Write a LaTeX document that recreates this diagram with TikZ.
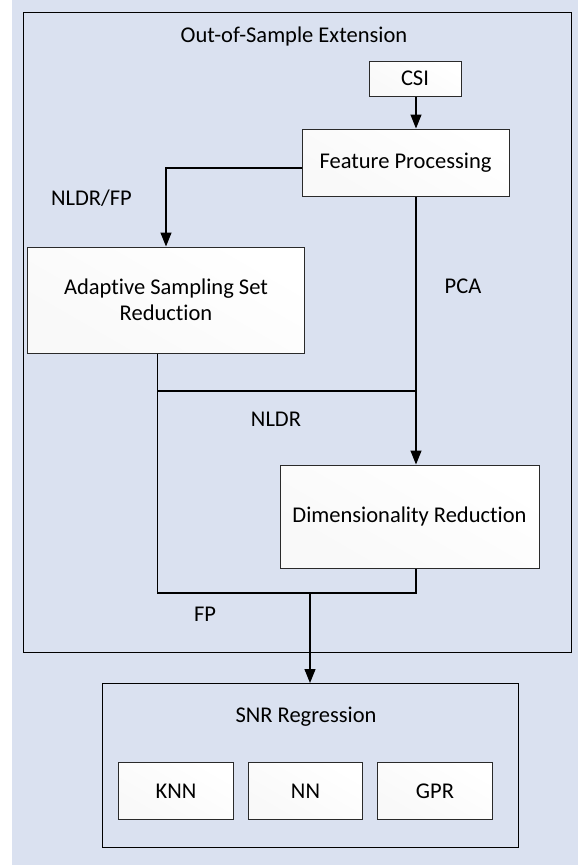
\documentclass[tikz,border=0pt]{standalone}
\usepackage{fontspec}
\setmainfont[Ligatures=NoCommon]{Carlito}
\usetikzlibrary{arrows.meta}
\definecolor{panel}{HTML}{DAE1F0}
\definecolor{boxline}{HTML}{2A2A2A}
\tikzset{
  x=1pt, y=-1pt,
  every node/.style={font=\fontsize{22.5}{26}\selectfont, text=black, inner sep=0pt},
  procbox/.style={draw=boxline, line width=1pt, shade, shading=axis,
    top color=white, bottom color=white!97.5!black, shading angle=-30, rectangle},
  group/.style={draw=black, line width=1pt},
  link/.style={line width=1.2pt, draw=black},
  flow/.style={link, -{Triangle[length=14pt,width=11pt]}},
  lbl/.style={anchor=center}
}
\begin{document}
\begin{tikzpicture}
  \useasboundingbox (0,0) rectangle (583,865);
  % page panel
  \fill[panel] (12,0) rectangle (578,865);

  % outer group: out-of-sample extension
  \draw[group] (23.5,12) rectangle (571,652.5);
  \node[lbl] (title) at (294,36) {Out-of-Sample Extension};

  % processing boxes
  \node[procbox, minimum width=92pt, minimum height=35pt] (csi) at (415,78.5) {CSI};
  \node[procbox, minimum width=207pt, minimum height=67pt] (fp) at (405.5,162.5) {Feature Processing};
  \node[procbox, minimum width=277pt, minimum height=106pt, align=center] (assr) at (166,300)
    {Adaptive Sampling Set\\Reduction};
  \node[procbox, minimum width=259pt, minimum height=103pt] (dr) at (409.5,516.5) {Dimensionality Reduction};

  % SNR regression group
  \draw[group] (102,683) rectangle (518,847);
  \coordinate (snrtop) at (310,683);
  \node[lbl] (snrtitle) at (306,717) {SNR Regression};
  \node[procbox, minimum width=114.5pt, minimum height=56.5pt] (knn) at (176,791) {KNN};
  \node[procbox, minimum width=114.5pt, minimum height=56.5pt] (nn) at (305.5,791) {NN};
  \node[procbox, minimum width=114.5pt, minimum height=56.5pt] (gpr) at (435,791) {GPR};

  % junction points
  \coordinate (jr) at (416,391);
  \coordinate (jl) at (157.7,391);
  \coordinate (bl) at (157.7,593);
  \coordinate (br) at (416,593);
  \coordinate (bm) at (310,593);
  \coordinate (fpl) at (302,168);

  % connectors
  \draw[flow] (csi.south -| jr) -- (fp.north -| jr);
  \draw[flow] (fp.west |- fpl) -| (assr.north);
  \draw[flow] (fp.south -| jr) -- (dr.north -| jr);
  \draw[link] (assr.south -| jl) -- (bl) -- (br) -- (dr.south -| br);
  \draw[link] (jl) -- (jr);
  \draw[flow] (bm) -- (snrtop);

  % branch labels
  \node[lbl] (lnf) at (91.5,198) {NLDR/FP};
  \node[lbl] (lpca) at (463,286) {PCA};
  \node[lbl] (lnldr) at (276,419) {NLDR};
  \node[lbl] (lfp) at (205,614) {FP};
\end{tikzpicture}
\end{document}
